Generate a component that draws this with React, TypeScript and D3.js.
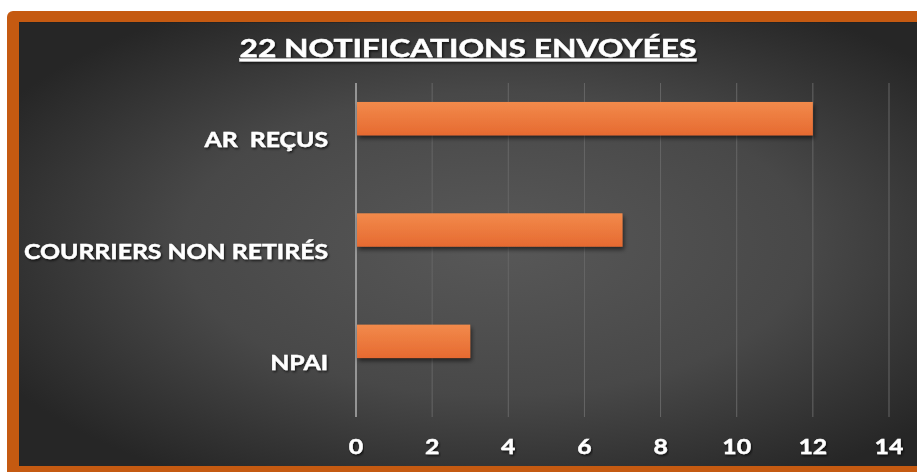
import React from "react";
import * as d3 from "d3";

const title = "22 NOTIFICATIONS ENVOYÉES";
const categories = ["AR  REÇUS", "COURRIERS NON RETIRÉS", "NPAI"];
const values = [12, 7, 3];
const xTicks = [0, 2, 4, 6, 8, 10, 12, 14];

const W = 917;
const H = 472;
const plot = { left: 356, right: 889, top: 83, bottom: 417 };
const SX = 1.21;
const SXT = 1.27;

export default function App() {
  const x = d3.scaleLinear().domain([0, 14]).range([plot.left, plot.right]);
  const y = d3
    .scaleBand<string>()
    .domain(categories)
    .range([63, 397])
    .paddingInner(0.7)
    .paddingOuter(0.35);
  const font = "Lato, 'Open Sans', sans-serif";
  return (
    <svg
      width={W}
      height={H}
      style={{ position: "absolute", left: 0, top: 0, display: "block" }}
    >
      <defs>
        <radialGradient id="bg" cx="0.52" cy="0.5" r="0.62" fx="0.52" fy="0.5">
          <stop offset="0" stopColor="#585858" />
          <stop offset="0.55" stopColor="#484848" />
          <stop offset="1" stopColor="#262626" />
        </radialGradient>
        <linearGradient id="bar" x1="0" y1="0" x2="0" y2="1">
          <stop offset="0" stopColor="#f28a4b" />
          <stop offset="1" stopColor="#e66a31" />
        </linearGradient>
        <filter id="shadow" x="-5%" y="-20%" width="110%" height="160%">
          <feDropShadow dx="1.5" dy="3" stdDeviation="2" floodColor="#000" floodOpacity="0.55" />
        </filter>
        <filter id="tshadow" x="-5%" y="-30%" width="110%" height="160%">
          <feDropShadow dx="1" dy="1.5" stdDeviation="1" floodColor="#000" floodOpacity="0.7" />
        </filter>
      </defs>
      <rect x={0} y={0} width={W} height={H} fill="#ffffff" />
      <rect x={7} y={11} width={W + 20} height={H + 20} rx={6} fill="#c55a11" />
      <rect x={19} y={22} width={W} height={466 - 22} fill="url(#bg)" />
      <line x1={19} x2={W} y1={22.5} y2={22.5} stroke="#222" strokeWidth={1} opacity={0.6} />

      {/* title */}
      <g transform={`translate(468,57) scale(${SXT},1)`} filter="url(#tshadow)">
        <text
          x={0}
          y={0}
          textAnchor="middle"
          fill="#ffffff"
          stroke="#ffffff"
          strokeWidth={0.4}
          fontFamily={font}
          fontWeight={700}
          fontSize={25}
          textDecoration="underline"
        >
          {title}
        </text>
      </g>

      {/* gridlines */}
      {xTicks.map((t) => (
        <line
          key={"g" + t}
          x1={x(t)}
          x2={x(t)}
          y1={plot.top}
          y2={plot.bottom}
          stroke={t === 0 ? "#b0b0b0" : "#666666"}
          strokeWidth={t === 0 ? 1.5 : 1}
        />
      ))}

      {/* bars */}
      {categories.map((c, i) => (
        <rect
          key={c}
          x={x(0) + 1}
          y={y(c)!}
          width={x(values[i]) - x(0) - 1}
          height={y.bandwidth()}
          fill="url(#bar)"
          filter="url(#shadow)"
        />
      ))}

      {/* category labels */}
      {categories.map((c) => (
        <g
          key={"l" + c}
          transform={`translate(328,${y(c)! + y.bandwidth() / 2 + 28.5}) scale(${SX},1)`}
          filter="url(#tshadow)"
        >
          <text
            x={0}
            y={0}
            textAnchor="end"
            fill="#ffffff"
            stroke="#ffffff"
            strokeWidth={0.4}
            fontFamily={font}
            fontWeight={700}
            fontSize={20.5}
            style={{ whiteSpace: "pre" }}
          >
            {c}
          </text>
        </g>
      ))}

      {/* tick labels */}
      {xTicks.map((t) => (
        <g
          key={"t" + t}
          transform={`translate(${x(t)},454) scale(${SX},1)`}
          filter="url(#tshadow)"
        >
          <text
            x={0}
            y={0}
            textAnchor="middle"
            fill="#ffffff"
            stroke="#ffffff"
            strokeWidth={0.4}
            fontFamily={font}
            fontWeight={700}
            fontSize={20.5}
          >
            {t}
          </text>
        </g>
      ))}
    </svg>
  );
}
